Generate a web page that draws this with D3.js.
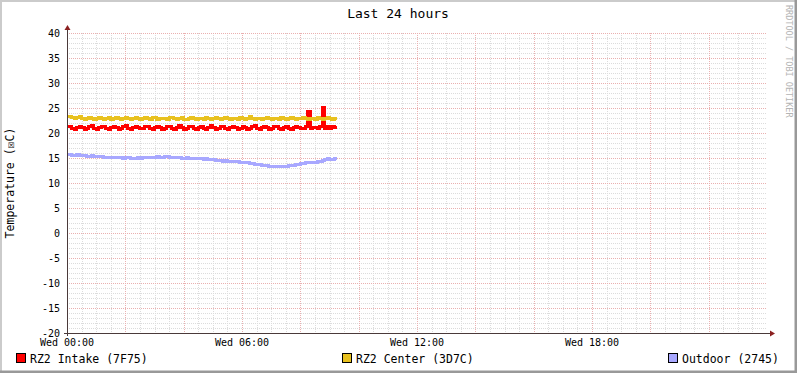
<!DOCTYPE html>
<html>
<head>
<meta charset="utf-8">
<script src="https://cdn.jsdelivr.net/npm/d3@7"></script>
<style>
  body { margin: 0; background: #fff; }
  svg { display: block; font-family: "DejaVu Sans Mono", monospace; }
</style>
</head>
<body>
<div id="chart"></div>
<script>
// 5 minute samples starting Wed 00:00
const startTime = new Date(2024, 0, 3, 0, 0);
const stepMinutes = 5;

const intake = [
  21.3,21.4,21.0,20.8,21.2,21.4,21.1,20.7,20.9,21.3,
  21.5,21.0,20.8,21.1,21.4,21.3,20.9,20.7,21.2,21.4,
  21.2,20.8,20.9,21.3,21.5,21.0,20.8,21.1,21.4,21.2,
  20.9,20.9,21.3,21.4,21.0,20.7,21.2,21.4,21.1,20.8,
  20.9,21.3,21.3,20.9,20.8,21.2,21.5,21.1,20.8,21.0,
  21.4,21.3,20.9,20.7,21.2,21.4,21.0,20.8,21.1,21.5,
  21.2,20.8,20.9,21.3,21.4,21.0,20.7,21.2,21.4,21.1,
  20.8,21.0,21.4,21.2,20.8,20.9,21.3,21.5,21.0,20.8,
  21.1,21.4,21.2,20.7,21.0,21.3,21.3,20.9,20.8,21.2,
  21.4,21.0,20.8,21.1,21.4,21.2,20.9,21.0,21.3,24.4,
  20.9,21.2,21.1,20.9,21.3,25.2,21.0,21.4,21.0,21.3,21.2
];

const center = [
  23.3,23.4,23.2,23.0,23.1,23.3,23.0,22.8,22.9,23.1,
  23.0,22.8,22.9,23.2,22.9,22.8,23.0,23.1,22.8,22.9,
  23.2,23.0,22.8,22.9,23.1,22.9,22.8,23.0,23.2,22.9,
  22.8,23.0,23.1,22.9,22.8,23.2,23.1,22.8,22.9,23.0,
  22.9,22.8,23.1,23.2,22.9,22.8,23.0,23.1,22.8,22.7,
  23.0,23.1,22.9,22.8,23.0,22.9,22.8,23.1,23.0,22.8,
  22.9,23.1,22.9,22.8,23.0,23.2,22.9,22.8,23.0,22.9,
  22.8,23.1,23.0,22.8,22.9,23.4,22.9,22.8,23.0,22.9,
  22.8,23.0,23.1,22.9,22.8,23.0,22.9,22.8,23.1,23.0,
  22.8,22.9,23.1,22.9,22.8,23.0,22.9,23.2,22.9,22.8,
  23.0,22.9,22.8,23.1,22.9,22.8,23.0,23.2,22.9,22.8,23.0
];

const outdoor = [
  15.7,15.7,15.6,15.6,15.7,15.6,
  15.5,15.5,15.4,15.4,15.5,15.4,15.3,15.3,15.3,15.2,
  15.2,15.2,15.1,15.1,15.2,15.1,15.1,15.0,15.1,15.1,15.0,15.0,15.0,15.1,15.0,
  15.1,15.1,15.2,15.2,15.1,15.2,15.3,15.2,15.2,15.3,15.3,15.2,15.1,15.1,15.2,
  15.1,15.0,15.0,15.1,15.0,14.9,14.9,15.0,14.9,14.9,14.8,14.9,14.8,14.7,14.7,
  14.6,14.6,14.5,14.4,14.5,14.4,14.3,14.4,14.3,14.3,14.2,14.2,
  14.1,14.1,14.0,13.9,13.8,13.8,13.7,13.6,13.5,13.5,13.4,13.4,13.4,
  13.3,13.4,13.3,13.4,13.4,13.5,13.5,13.6,13.7,13.8,13.9,14.0,
  14.1,14.1,14.2,14.2,14.2,14.3,14.4,14.6,14.8,14.9,14.8,14.8,14.9
];

const seriesNames = ["RZ2 Intake (7F75)", "RZ2 Center (3D7C)", "Outdoor (2745)"];
const seriesColors = ["#ff0000", "#e8c11f", "#a8a8ff"];
const yTicks = [-20, -15, -10, -5, 0, 5, 10, 15, 20, 25, 30, 35, 40];

const width = 797, height = 373;
const plot = { left: 67, right: 767, top: 33, bottom: 333 };

const svg = d3.select("#chart").append("svg")
  .attr("width", width)
  .attr("height", height);

// background + frame
svg.append("rect").attr("width", width).attr("height", height).attr("fill", "#ffffff");
svg.append("path").attr("d", `M0,${height} V0 H${width}`).attr("fill", "none")
  .attr("stroke", "#cbcbcb").attr("stroke-width", 4);
svg.append("path").attr("d", `M0,${height} H${width} V0`).attr("fill", "none")
  .attr("stroke", "#999999").attr("stroke-width", 5);

const endTime = d3.timeHour.offset(startTime, 24);
const x = d3.scaleTime().domain([startTime, endTime]).range([plot.left, plot.right]);
const y = d3.scaleLinear().domain([-20, 40]).range([plot.bottom, plot.top]);

const grid = svg.append("g").attr("shape-rendering", "crispEdges");

// minor grid
grid.selectAll("line.hmin")
  .data(d3.range(-20, 41, 1).filter(v => v % 5 !== 0))
  .join("line")
  .attr("x1", plot.left).attr("x2", plot.right)
  .attr("y1", d => Math.round(y(d)) + 0.5).attr("y2", d => Math.round(y(d)) + 0.5)
  .attr("stroke", "#dcdcdc").attr("stroke-dasharray", "1,1");

grid.selectAll("line.vmin")
  .data(d3.timeMinute.every(30).range(startTime, endTime).filter(t => t.getMinutes() !== 0 || t.getHours() % 2 !== 0))
  .join("line")
  .attr("x1", d => Math.round(x(d)) + 0.5).attr("x2", d => Math.round(x(d)) + 0.5)
  .attr("y1", plot.top).attr("y2", plot.bottom)
  .attr("stroke", "#dcdcdc").attr("stroke-dasharray", "1,1");

// major grid
grid.selectAll("line.hmaj")
  .data(yTicks)
  .join("line")
  .attr("x1", plot.left).attr("x2", plot.right)
  .attr("y1", d => Math.round(y(d)) + 0.5).attr("y2", d => Math.round(y(d)) + 0.5)
  .attr("stroke", "#eab0b0").attr("stroke-dasharray", "1,1");

grid.selectAll("line.vmaj")
  .data(d3.timeHour.every(2).range(startTime, endTime))
  .join("line")
  .attr("x1", d => Math.round(x(d)) + 0.5).attr("x2", d => Math.round(x(d)) + 0.5)
  .attr("y1", plot.top).attr("y2", plot.bottom)
  .attr("stroke", "#eab0b0").attr("stroke-dasharray", "1,1");

// series
const allSeries = [intake, center, outdoor];
const line = d3.line()
  .x((d, i) => x(d3.timeMinute.offset(startTime, i * stepMinutes)))
  .y(d => y(d))
  .curve(d3.curveStepAfter);

svg.append("g").selectAll("path")
  .data(allSeries)
  .join("path")
  .attr("d", d => line(d.concat([d[d.length - 1]])))
  .attr("fill", "none")
  .attr("stroke", (d, i) => seriesColors[i])
  .attr("stroke-width", 3)
  .attr("shape-rendering", "crispEdges");

// axes
const axisColor = "#4a3a3a", arrowColor = "#8b2020";
svg.append("line")
  .attr("x1", plot.left - 3).attr("x2", plot.right + 4)
  .attr("y1", plot.bottom + 0.5).attr("y2", plot.bottom + 0.5)
  .attr("stroke", axisColor).attr("shape-rendering", "crispEdges");
svg.append("line")
  .attr("x1", plot.left + 0.5).attr("x2", plot.left + 0.5)
  .attr("y1", plot.bottom + 3).attr("y2", plot.top - 4)
  .attr("stroke", axisColor).attr("shape-rendering", "crispEdges");
svg.append("path")
  .attr("d", `M${plot.right + 3},${plot.bottom - 2.5} L${plot.right + 8},${plot.bottom + 0.5} L${plot.right + 3},${plot.bottom + 3.5} Z`)
  .attr("fill", arrowColor);
svg.append("path")
  .attr("d", `M${plot.left - 2.5},${plot.top - 3} L${plot.left + 0.5},${plot.top - 8} L${plot.left + 3.5},${plot.top - 3} Z`)
  .attr("fill", arrowColor);

// tick labels
svg.append("g").selectAll("text")
  .data(yTicks)
  .join("text")
  .attr("x", plot.left - 7)
  .attr("y", d => y(d) + 3.5)
  .attr("text-anchor", "end")
  .style("font-size", "10px")
  .attr("fill", "#000")
  .text(d => d);

svg.append("g").selectAll("text")
  .data(d3.timeHour.every(6).range(startTime, endTime))
  .join("text")
  .attr("x", d => x(d))
  .attr("y", plot.bottom + 13)
  .attr("text-anchor", "middle")
  .style("font-size", "10px")
  .attr("fill", "#000")
  .text(d => d3.timeFormat("%a %H:%M")(d));

// title
svg.append("text")
  .attr("x", 398).attr("y", 18)
  .attr("text-anchor", "middle")
  .style("font-size", "13px")
  .text("Last 24 hours");

// y title
svg.append("text")
  .attr("transform", `translate(14,${(plot.top + plot.bottom) / 2}) rotate(-90)`)
  .attr("text-anchor", "middle")
  .style("font-size", "11.5px")
  .text("Temperature (\u2612C)");

// watermark
svg.append("text")
  .attr("transform", "translate(786,5) rotate(90)")
  .attr("text-anchor", "start")
  .style("font-size", "8.5px")
  .attr("fill", "#b4b4b4")
  .text("RRDTOOL / TOBI OETIKER");

// legend
const legendX = [16, 342, 668];
const legend = svg.append("g").selectAll("g")
  .data(seriesNames)
  .join("g")
  .attr("transform", (d, i) => `translate(${legendX[i]},353)`);
legend.append("rect")
  .attr("x", 0.5).attr("y", 0.5)
  .attr("width", 9).attr("height", 9)
  .attr("fill", (d, i) => seriesColors[i])
  .attr("stroke", "#000")
  .attr("shape-rendering", "crispEdges");
legend.append("text")
  .attr("x", 14).attr("y", 9.5)
  .style("font-size", "11.5px")
  .text(d => d);
</script>
</body>
</html>
